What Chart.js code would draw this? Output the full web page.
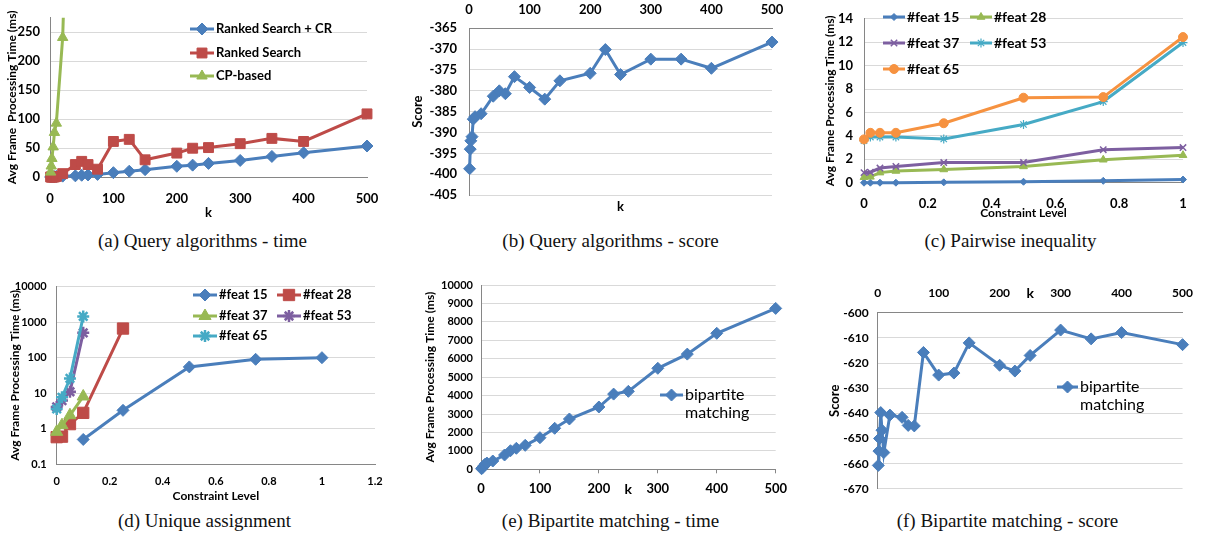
<!DOCTYPE html>
<html>
<head>
<meta charset="utf-8">
<script src="https://cdn.jsdelivr.net/npm/chart.js@4.4.1/dist/chart.umd.min.js"></script>
<style>
  body { margin: 0; width: 1205px; height: 537px; background: #fff; position: relative; overflow: hidden; }
  canvas { position: absolute; }
  .cap { position: absolute; font-family: "Liberation Serif", serif; font-size: 19px; color: #111; text-align: center; white-space: nowrap; }
</style>
</head>
<body>
<canvas id="chartA" width="400" height="225" style="left:0;top:0"></canvas>
<canvas id="chartB" width="400" height="220" style="left:400px;top:0"></canvas>
<canvas id="chartC" width="405" height="225" style="left:800px;top:0"></canvas>
<canvas id="chartD" width="400" height="235" style="left:0;top:270px"></canvas>
<canvas id="chartE" width="400" height="230" style="left:400px;top:270px"></canvas>
<canvas id="chartF" width="405" height="235" style="left:800px;top:270px"></canvas>

<div class="cap" style="left:0;width:405px;top:230px">(a) Query algorithms - time</div>
<div class="cap" style="left:408px;width:405px;top:230px">(b) Query algorithms - score</div>
<div class="cap" style="left:808px;width:405px;top:230px">(c) Pairwise inequality</div>
<div class="cap" style="left:2px;width:405px;top:510px">(d) Unique assignment</div>
<div class="cap" style="left:408px;width:405px;top:510px">(e) Bipartite matching - time</div>
<div class="cap" style="left:805px;width:405px;top:510px">(f) Bipartite matching - score</div>

<script>
// k values shared by the query / bipartite plots
const kVals = [1, 2, 3, 5, 7, 10, 20, 40, 50, 60, 75, 100, 125, 150, 200, 225, 250, 300, 350, 400, 500];
const kTicks = [0, 100, 200, 300, 400, 500];

// (a) query algorithms - time
const rankedCR = [0, 0, 0.2, 0.4, 0.6, 1, 1.5, 2, 3, 3.5, 4.5, 7.5, 10, 12.7, 18.5, 20.5, 23.5, 28.6, 35.5, 41.8, 53.5];
const ranked = [0, 0, 0, 0, 0, 1, 5.8, 21.5, 27, 21.5, 13.5, 61.4, 65, 29.7, 41.3, 49.7, 50.8, 57.6, 66.7, 61.4, 109];
const kCP = [1, 2, 3, 5, 7, 10, 20, 40];
const cpBased = [8.5, 19, 32, 52, 77, 93, 241, 950];
const yTicksA = [0, 50, 100, 150, 200, 250];

// (b) query algorithms - score
const scoreB = [-398.7, -394, -392, -391, -386.8, -386.2, -385.5, -381.3, -380, -380.7, -376.6, -379.2, -382, -377.6, -375.8, -370.1, -376.1, -372.4, -372.4, -374.6, -368.3];
const yTicksB = [-405, -400, -395, -390, -385, -380, -375, -370, -365];

// (c) pairwise inequality
const levelsC = [0, 0.02, 0.05, 0.1, 0.25, 0.5, 0.75, 1];
const feat15C = [0, 0, 0, 0, 0.03, 0.08, 0.16, 0.27];
const feat28C = [0.47, 0.5, 0.86, 1.0, 1.13, 1.39, 1.96, 2.35];
const feat37C = [0.86, 0.9, 1.25, 1.39, 1.72, 1.72, 2.82, 3.0];
const feat53C = [3.6, 3.9, 3.9, 3.9, 3.74, 4.97, 6.93, 11.97];
const feat65C = [3.7, 4.26, 4.26, 4.26, 5.08, 7.26, 7.31, 12.44];
const xTicksC = [0, 0.2, 0.4, 0.6, 0.8, 1];
const yTicksC = [0, 2, 4, 6, 8, 10, 12, 14];

// (d) unique assignment (log scale)
const lv15D = [0.1, 0.25, 0.5, 0.75, 1];
const feat15D = [0.5, 3.3, 55, 90, 100];
const lv28D = [0, 0.02, 0.05, 0.1, 0.25];
const feat28D = [0.58, 0.6, 1.35, 2.8, 660];
const lvSmallD = [0, 0.02, 0.05, 0.1];
const feat37D = [0.82, 1.26, 2.4, 8.1];
const feat53D = [4.1, 6.2, 11, 500];
const feat65D = [3.6, 7.7, 26, 1450];
const xTicksD = [0, 0.2, 0.4, 0.6, 0.8, 1, 1.2];
const yTicksD = [0.1, 1, 10, 100, 1000, 10000];

// (e) bipartite matching - time
const timeE = [30, 70, 110, 190, 280, 340, 450, 776, 1009, 1140, 1300, 1715, 2225, 2730, 3380, 4080, 4230, 5480, 6250, 7380, 8730];
const yTicksE = [0, 1000, 2000, 3000, 4000, 5000, 6000, 7000, 8000, 9000, 10000];

// (f) bipartite matching - score
const scoreF = [-660.7, -655, -650, -639.7, -646.7, -655.6, -640.7, -641.6, -644.8, -645, -615.8, -624.8, -624, -612, -620.9, -623.2, -617, -606.9, -610.4, -607.9, -612.7];
const yTicksF = [-670, -660, -650, -640, -630, -620, -610, -600];

const BLUE = '#4A7EBB', RED = '#BE4B48', GREEN = '#98B954', PURPLE = '#7D5FA0', TEAL = '#46AAC5', ORANGE = '#F69240';
const GRID = '#D9D9D9', AXIS = '#868686';
const FONT = 'Lato, "Open Sans", sans-serif';
const bold = size => ({ family: FONT, size: size, weight: 'bold' });

Chart.defaults.color = '#000';

const pts = (xs, ys) => xs.map((x, i) => ({ x: x, y: ys[i] }));
const setTicks = arr => s => { s.ticks = arr.map(v => ({ value: v })); };

function series(label, xs, ys, color, style, radius, extra) {
    return Object.assign({
        label: label, data: pts(xs, ys), showLine: true, tension: 0, clip: false,
        borderColor: color, backgroundColor: color, borderWidth: 3,
        pointStyle: style, pointRadius: radius, pointHoverRadius: radius,
        pointBackgroundColor: color, pointBorderColor: color, pointBorderWidth: 1
    }, extra || {});
}

// legend drawn inside the plot, Excel style (line + marker + text)
const inlineLegend = {
    id: 'inlineLegend',
    afterDraw(chart, args, opts) {
        if (!opts || !opts.items) return;
        const ctx = chart.ctx;
        ctx.save();
        opts.items.forEach(it => {
            const ds = chart.data.datasets[it.ds];
            const len = opts.lineLen;
            ctx.strokeStyle = ds.borderColor;
            ctx.lineWidth = ds.borderWidth;
            ctx.beginPath();
            ctx.moveTo(it.x, it.y);
            ctx.lineTo(it.x + len, it.y);
            ctx.stroke();
            ctx.fillStyle = ds.pointBackgroundColor;
            ctx.strokeStyle = ds.pointBorderColor;
            ctx.lineWidth = ds.pointBorderWidth;
            Chart.helpers.drawPoint(ctx, { pointStyle: ds.pointStyle, radius: ds.pointRadius, borderWidth: ds.pointBorderWidth, rotation: 0 }, it.x + len / 2, it.y);
            ctx.fillStyle = '#000';
            ctx.font = opts.font;
            ctx.textAlign = 'left';
            ctx.textBaseline = 'middle';
            const lines = it.wrap ? ds.label.split(' ') : [ds.label];
            lines.forEach((t, i) => ctx.fillText(t, it.x + len + 2, it.y + i * opts.lineGap));
        });
        ctx.restore();
    }
};

function makeChart(id, datasets, pad, scales, legend) {
    return new Chart(document.getElementById(id), {
        type: 'scatter',
        data: { datasets: datasets },
        options: {
            responsive: false,
            animation: false,
            events: [],
            layout: { padding: pad },
            plugins: { legend: { display: false }, tooltip: { enabled: false }, inlineLegend: legend },
            scales: scales
        },
        plugins: [inlineLegend]
    });
}

function linAxis(min, max, ticks, o) {
    return {
        type: o.type || 'linear', position: o.position, min: min, max: max,
        afterBuildTicks: setTicks(ticks),
        afterFit: o.size,
        grid: o.grid,
        border: { color: AXIS },
        ticks: { font: bold(o.font), padding: o.pad, callback: v => String(v) },
        title: o.title
    };
}
const noGrid = { drawOnChartArea: false, drawTicks: false };
const hGrid = { color: GRID, drawTicks: false };

// (a)
makeChart('chartA', [
    series('Ranked Search + CR', kVals, rankedCR, BLUE, 'rectRot', 6, { order: 3 }),
    series('Ranked Search', kVals, ranked, RED, 'rect', 7, { order: 2 }),
    series('CP-based', kCP, cpBased, GREEN, 'triangle', 6, { order: 1, clip: { top: 0, left: false, right: false, bottom: false } })
], { left: 0, top: 4, right: 33, bottom: 0 }, {
    x: linAxis(0, 500, kTicks, { size: s => { s.height = 48; }, grid: noGrid, font: 13, pad: 14,
        title: { display: true, text: 'k', font: bold(13), padding: { top: 0, bottom: 4 } } }),
    y: linAxis(0, 275, yTicksA, { size: s => { s.width = 50; }, grid: hGrid, font: 13, pad: 10,
        title: { display: true, text: 'Avg Frame  Processing Time (ms)', font: bold(12), padding: { top: 5, bottom: 0 } } })
}, { lineLen: 24, font: 'bold 13px ' + FONT, lineGap: 17, items: [
    { ds: 0, x: 190, y: 29 }, { ds: 1, x: 190, y: 53 }, { ds: 2, x: 190, y: 76 }
] });

// (b)
makeChart('chartB', [
    series('score', kVals, scoreB, BLUE, 'rectRot', 6)
], { left: 0, top: 0, right: 28, bottom: 0 }, {
    x: linAxis(0, 500, kTicks, { position: 'top', size: s => { s.height = 28.3; }, grid: noGrid, font: 13, pad: 11 }),
    x2: { type: 'linear', axis: 'x', position: 'bottom', min: 0, max: 500,
        afterFit: s => { s.height = 25; }, grid: { display: false }, border: { display: false }, ticks: { display: false },
        title: { display: true, text: 'k', font: bold(13), padding: { top: 0, bottom: 5 } } },
    y: linAxis(-405, -365, yTicksB, { size: s => { s.width = 69; }, grid: hGrid, font: 13, pad: 12,
        title: { display: true, text: 'Score', font: bold(13), padding: { top: 10, bottom: 0 } } })
});

// (c)
makeChart('chartC', [
    series('#feat 15', levelsC, feat15C, BLUE, 'rectRot', 3.5, { order: 5 }),
    series('#feat 28', levelsC, feat28C, GREEN, 'triangle', 4.5, { order: 4 }),
    series('#feat 37', levelsC, feat37C, PURPLE, 'crossRot', 4.5, { order: 3, pointBorderWidth: 1.5 }),
    series('#feat 53', levelsC, feat53C, TEAL, 'star', 4.5, { order: 2, pointBorderWidth: 1.2 }),
    series('#feat 65', levelsC, feat65C, ORANGE, 'circle', 4.5, { order: 1 })
], { left: 0, top: 4, right: 22, bottom: 0 }, {
    x: linAxis(0, 1, xTicksC, { size: s => { s.height = 42.3; }, grid: noGrid, font: 13, pad: 13,
        title: { display: true, text: 'Constraint Level', font: bold(12), padding: { top: 0, bottom: 5 } } }),
    y: linAxis(0, 14, yTicksC, { size: s => { s.width = 64; }, grid: hGrid, font: 13, pad: 11,
        title: { display: true, text: 'Avg Frame Processing Time (ms)', font: bold(12), padding: { top: 23, bottom: 0 } } })
}, { lineLen: 22, font: 'bold 14px ' + FONT, lineGap: 17, items: [
    { ds: 0, x: 83, y: 17 }, { ds: 1, x: 170, y: 17 },
    { ds: 2, x: 83, y: 43 }, { ds: 3, x: 170, y: 43 },
    { ds: 4, x: 83, y: 69 }
] });

// (d)
makeChart('chartD', [
    series('#feat 15', lv15D, feat15D, BLUE, 'rectRot', 6, { order: 5 }),
    series('#feat 28', lv28D, feat28D, RED, 'rect', 8, { order: 4 }),
    series('#feat 37', lvSmallD, feat37D, GREEN, 'triangle', 7, { order: 3 }),
    series('#feat 53', lvSmallD, feat53D, PURPLE, 'star', 6, { order: 2, pointBorderWidth: 2.5 }),
    series('#feat 65', lvSmallD, feat65D, TEAL, 'star', 6, { order: 1, pointBorderWidth: 2.5 })
], { left: 0, top: 15, right: 25, bottom: 0 }, {
    x: linAxis(0, 1.2, xTicksD, { size: s => { s.height = 40.7; }, grid: noGrid, font: 11, pad: 11,
        title: { display: true, text: 'Constraint Level', font: bold(12), padding: { top: 0, bottom: 2 } } }),
    y: linAxis(0.1, 10000, yTicksD, { type: 'logarithmic', size: s => { s.width = 56.7; }, grid: hGrid, font: 11, pad: 10,
        title: { display: true, text: 'Avg Frame Processing Time (ms)', font: bold(12), padding: { top: 8, bottom: 0 } } })
}, { lineLen: 24, font: 'bold 13px ' + FONT, lineGap: 17, items: [
    { ds: 0, x: 193, y: 25 }, { ds: 1, x: 277, y: 25 },
    { ds: 2, x: 193, y: 46 }, { ds: 3, x: 277, y: 46 },
    { ds: 4, x: 193, y: 66 }
] });

// (e)
makeChart('chartE', [
    series('bipartite matching', kVals, timeE, BLUE, 'rectRot', 6)
], { left: 0, top: 15, right: 24.3, bottom: 0 }, {
    x: linAxis(0, 500, kTicks, { size: s => { s.height = 30.7; }, grid: { drawOnChartArea: false, drawTicks: true, tickLength: 4, color: AXIS }, font: 13, pad: 8,
        title: { display: true, text: 'k', font: bold(14), padding: { top: 0, bottom: 2 } } }),
    y: linAxis(0, 10000, yTicksE, { size: s => { s.width = 81; }, grid: hGrid, font: 11, pad: 8,
        title: { display: true, text: 'Avg Frame Processing Time (ms)', font: bold(12), padding: { top: 23, bottom: 0 } } })
}, { lineLen: 23, font: '16px ' + FONT, lineGap: 18, items: [
    { ds: 0, x: 260, y: 125, wrap: true }
] });

// (f)
makeChart('chartF', [
    series('bipartite matching', kVals, scoreF, BLUE, 'rectRot', 6)
], { left: 0, top: 0, right: 15, bottom: 9 }, {
    x: linAxis(0, 500, kTicks, { position: 'top', size: s => { s.height = 42.7; }, grid: noGrid, font: 12, pad: 12,
        title: { display: true, text: 'k', font: bold(14), padding: { top: 14.6, bottom: 0 } } }),
    y: linAxis(-670, -600, yTicksF, { size: s => { s.width = 77.7; }, grid: hGrid, font: 12, pad: 9,
        title: { display: true, text: 'Score', font: bold(13), padding: { top: 27, bottom: 0 } } })
}, { lineLen: 21, font: '16px ' + FONT, lineGap: 18, items: [
    { ds: 0, x: 257, y: 117, wrap: true }
] });
</script>
</body>
</html>
